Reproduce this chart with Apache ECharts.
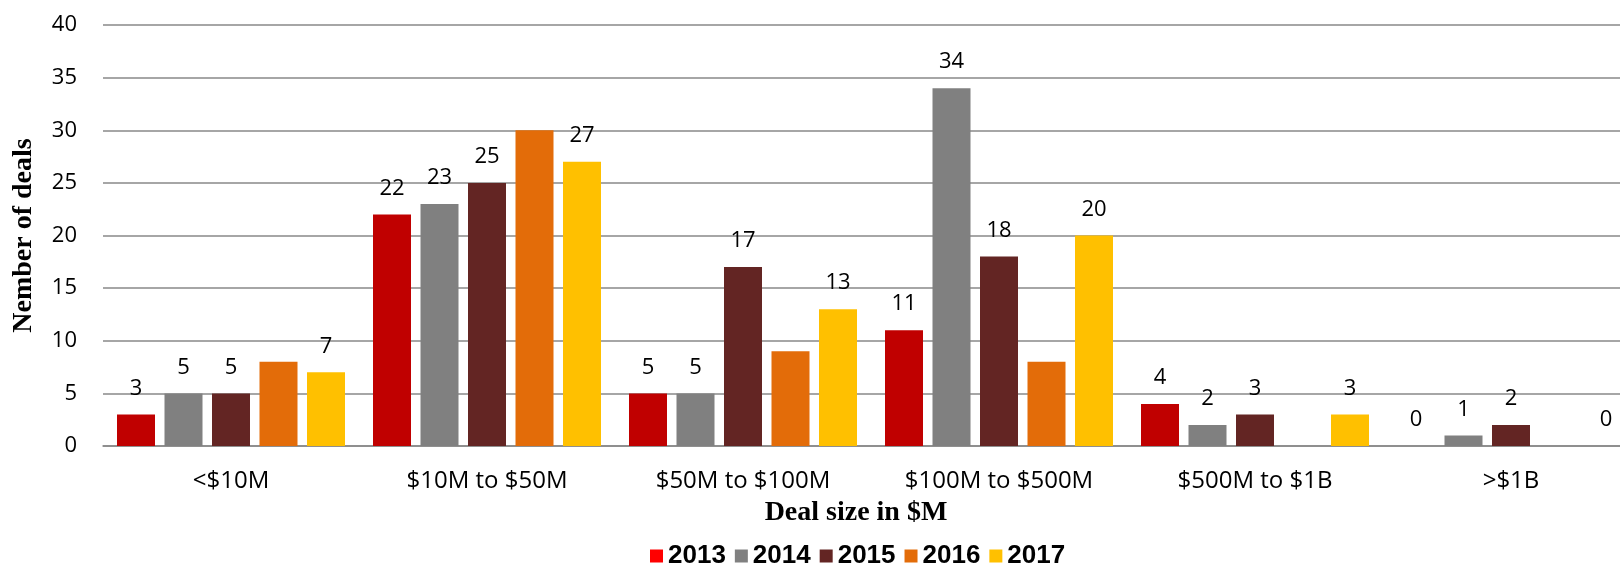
<!DOCTYPE html>
<html>
<head>
<meta charset="utf-8">
<title>Deal size</title>
<script src="https://cdn.jsdelivr.net/npm/echarts@6/dist/echarts.min.js"></script>
<style>
    html, body { margin: 0; padding: 0; background: #fff; }
    #echartsView1 { width: 1620px; height: 566px; }
</style>
</head>
<body>
<div id="echartsView1"></div>
<script>
//数据
var categories = ['<$10M', '$10M to $50M', '$50M to $100M', '$100M to $500M', '$500M to $1B', '>$1B'];
var years = ['2013', '2014', '2015', '2016', '2017'];
var deals2013 = [3, 22, 5, 11, 4, 0];
var deals2014 = [5, 23, 5, 34, 2, 1];
var deals2015 = [5, 25, 17, 18, 3, 2];
var deals2016 = [8, 30, 9, 8, null, null];
var deals2017 = [7, 27, 13, 20, 3, 0];
var yTicks = [0, 5, 10, 15, 20, 25, 30, 35, 40];

var barColors = ['#C00000', '#808080', '#632523', '#E36C09', '#FFC000'];
var legendColors = ['#FF0000', '#808080', '#632523', '#E36C09', '#FFC000'];
var showLabels = [true, true, true, false, true]; //2016 原图无数值标注

var myChart1;

function buildSeries() {
    var all = [deals2013, deals2014, deals2015, deals2016, deals2017];
    var series = [];
    for (var s = 0; s < all.length; s++) {
        series.push({
            name: years[s],
            type: 'bar',
            barWidth: 38,
            barGap: '25%',
            itemStyle: { color: barColors[s] },
            label: {
                show: showLabels[s],
                position: 'top',
                distance: 15,
                color: '#000',
                fontFamily: 'Open Sans',
                fontSize: 22
            },
            data: all[s]
        });
    }
    return series;
}

function setEchartsData() {
    var legendData = [];
    for (var i = 0; i < years.length; i++) {
        legendData.push({ name: years[i], itemStyle: { color: legendColors[i] } });
    }

    var option = {
        animation: false,
        title: {
            text: 'Deal size in $M',
            left: 856,
            top: 499,
            textAlign: 'center',
            padding: 0,
            textStyle: {
                fontFamily: 'Liberation Serif',
                fontWeight: 'bold',
                fontSize: 28,
                color: '#000'
            }
        },
        legend: {
            data: legendData,
            left: 650,
            top: 543,
            padding: 0,
            itemWidth: 13,
            itemHeight: 13,
            itemGap: 9,
            icon: 'rect',
            textStyle: {
                fontFamily: 'Liberation Sans',
                fontWeight: 'bold',
                fontSize: 26,
                color: '#000'
            }
        },
        grid: {
            left: 103,
            width: 1536, //右侧超出画面
            top: 25,
            bottom: 120,
            outerBoundsMode: 'none'
        },
        xAxis: {
            type: 'category',
            data: categories,
            axisTick: { show: false },
            axisLine: { lineStyle: { color: '#888', width: 1.5 } },
            axisLabel: {
                margin: 23,
                color: '#000',
                fontFamily: 'Open Sans',
                fontSize: 24
            }
        },
        yAxis: {
            type: 'value',
            min: yTicks[0],
            max: yTicks[yTicks.length - 1],
            interval: 5,
            name: 'Nember of deals',
            nameLocation: 'middle',
            nameGap: 65,
            nameTextStyle: {
                fontFamily: 'Liberation Serif',
                fontWeight: 'bold',
                fontSize: 28,
                color: '#000'
            },
            axisLine: { show: false },
            axisTick: { show: false },
            splitLine: { lineStyle: { color: '#888', width: 1.5 } },
            axisLabel: {
                margin: 26,
                color: '#000',
                fontFamily: 'Open Sans',
                fontSize: 22
            }
        },
        series: buildSeries()
    };

    myChart1.setOption(option);
}

myChart1 = echarts.init(document.getElementById('echartsView1'));
setEchartsData();
</script>
</body>
</html>
